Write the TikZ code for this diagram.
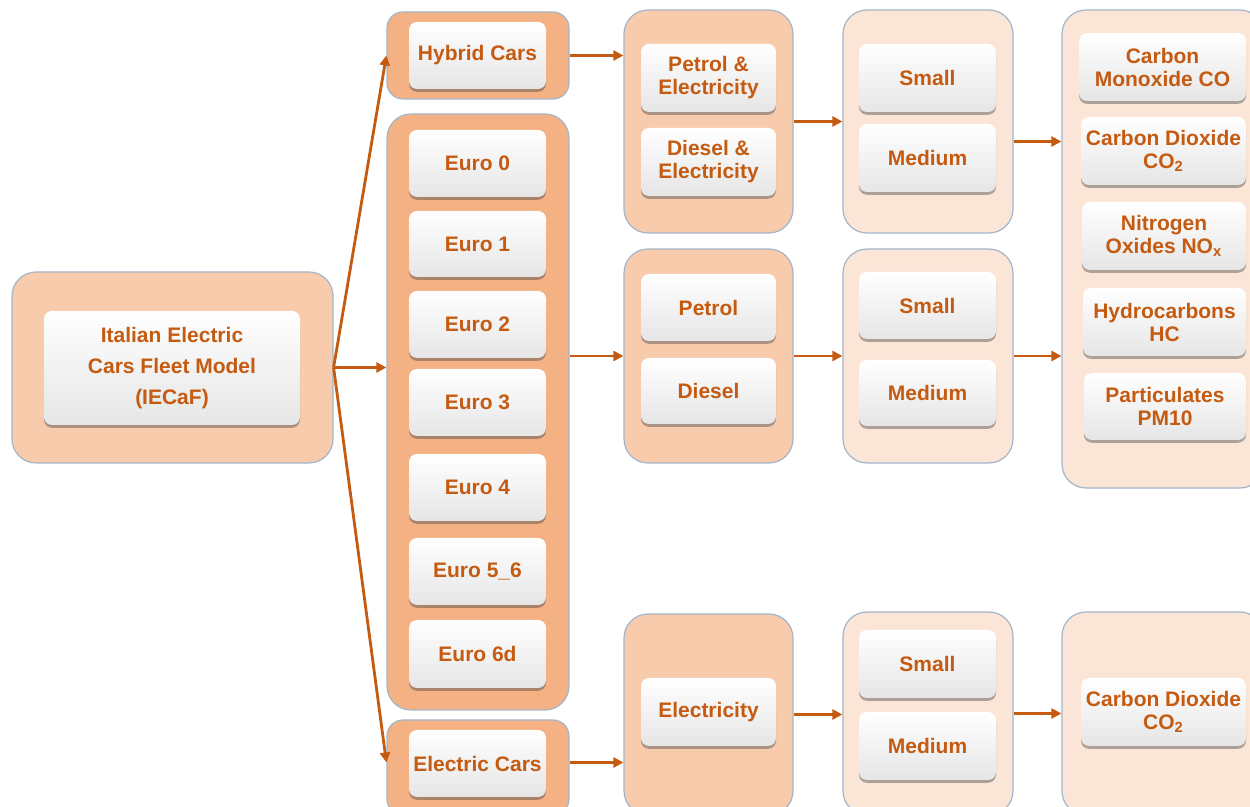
\documentclass[tikz,border=0pt]{standalone}
\usepackage{fontspec}
\setmainfont{Liberation Sans}
\usetikzlibrary{shadows,arrows.meta}
\definecolor{txt}{HTML}{C55A11}
\definecolor{fillA}{HTML}{F4B183}
\definecolor{fillB}{HTML}{F8CBAD}
\definecolor{fillC}{HTML}{FBE5D6}
\definecolor{rim}{HTML}{A3B6CA}
\tikzset{
  x=0.5pt, y=-0.5pt,
  at box/.style n args={4}{at={({(#1+#3)/2},{(#2+#4)/2})},
    minimum width={(#3-#1)*0.5pt}, minimum height={(#4-#2)*0.5pt}},
  group/.style={draw=rim, line width=0.6pt, rounded corners=12pt, inner sep=0pt},
  groupA/.style={group, fill=fillA},
  groupB/.style={group, fill=fillB},
  groupC/.style={group, fill=fillC},
  item/.style={rounded corners=4pt, inner sep=0pt, top color=white, bottom color=black!10,
    drop shadow={shadow xshift=0pt, shadow yshift=-1.4pt, opacity=0.45, fill=black!70},
    text=txt, font=\bfseries\fontsize{10.5}{11.5}\selectfont, align=center},
  arr/.style={draw=txt, line width=1.4pt, -{Triangle[length=5pt,width=5pt]}},
}
\begin{document}
\begin{tikzpicture}
\clip (0,0) rectangle (1250,807);
\fill[white] (0,0) rectangle (1250,807);

% model
\node[groupB, at box={12}{272}{333}{463}] (main) {};
\node[item, at box={44}{311}{300}{425}, font=\bfseries\fontsize{10.5}{15.5}\selectfont] (mainT) {Italian Electric\\Cars Fleet Model\\(IECaF)};

% vehicle classes
\node[groupA, rounded corners=8pt, at box={387}{12}{569}{99}] (hyb) {};
\node[item, at box={409}{22}{546}{89}] (hybT) {Hybrid Cars};
\node[groupA, at box={387}{114}{569}{710}] (euro) {};
\node[item, at box={409}{130}{546}{197}] (e0) {Euro 0};
\node[item, at box={409}{211}{546}{277}] (e1) {Euro 1};
\node[item, at box={409}{291}{546}{358}] (e2) {Euro 2};
\node[item, at box={409}{369}{546}{436}] (e3) {Euro 3};
\node[item, at box={409}{454}{546}{521}] (e4) {Euro 4};
\node[item, at box={409}{538}{546}{605}] (e5) {Euro 5\_6};
\node[item, at box={409}{620}{546}{688}] (e6) {Euro 6d};
\node[groupA, rounded corners=8pt, at box={387}{720}{569}{815}] (elec) {};
\node[item, at box={409}{730}{546}{797}] (elecT) {Electric Cars};

% fuels
\node[groupB, at box={624}{10}{793}{233}] (hfuel) {};
\node[item, at box={641}{44}{776}{112}] (pe) {Petrol \&\\Electricity};
\node[item, at box={641}{128}{776}{196}] (de) {Diesel \&\\Electricity};
\node[groupB, at box={624}{249}{793}{463}] (pd) {};
\node[item, at box={641}{274}{776}{341}] (pet) {Petrol};
\node[item, at box={641}{358}{776}{424}] (die) {Diesel};
\node[groupB, at box={624}{614}{793}{815}] (efuel) {};
\node[item, at box={641}{678}{776}{746}] (ele) {Electricity};

% sizes
\node[groupC, at box={843}{10}{1013}{233}] (sz1) {};
\node[item, at box={859}{44}{996}{112}] (s1) {Small};
\node[item, at box={859}{124}{996}{192}] (m1) {Medium};
\node[groupC, at box={843}{249}{1013}{463}] (sz2) {};
\node[item, at box={859}{272}{996}{339}] (s2) {Small};
\node[item, at box={859}{360}{996}{426}] (m2) {Medium};
\node[groupC, at box={843}{612}{1013}{815}] (sz3) {};
\node[item, at box={859}{630}{996}{698}] (s3) {Small};
\node[item, at box={859}{712}{996}{780}] (m3) {Medium};

% emissions
\node[groupC, at box={1062}{10}{1264}{488}] (em1) {};
\node[item, at box={1079}{33}{1246}{101}] (co) {Carbon\\Monoxide CO};
\node[item, at box={1081}{117}{1246}{185}] (co2) {Carbon Dioxide\\CO\textsubscript{2}};
\node[item, at box={1082}{202}{1246}{270}] (nox) {Nitrogen\\Oxides NO\textsubscript{x}};
\node[item, at box={1083}{288}{1246}{356}] (hc) {Hydrocarbons\\HC};
\node[item, at box={1084}{373}{1246}{440}] (pm) {Particulates\\PM10};
\node[groupC, at box={1062}{612}{1264}{815}] (em2) {};
\node[item, at box={1081}{678}{1246}{746}] (co2b) {Carbon Dioxide\\CO\textsubscript{2}};

% connectors
\draw[arr] (main.east) -- (hyb.west);
\draw[arr] (main.east) -- (main.east -| euro.west);
\draw[arr] (main.east) -- ([yshift=2.5pt]elec.west);
\draw[arr] (hyb.east) -- (hyb.east -| hfuel.west);
\draw[arr] (euro.east |- pd.west) -- (pd.west);
\draw[arr] ([yshift=2.5pt]elec.east) -- ([yshift=2.5pt]elec.east -| efuel.west);
\draw[arr] (hfuel.east) -- (hfuel.east -| sz1.west);
\draw[arr] (pd.east) -- (pd.east -| sz2.west);
\draw[arr] (efuel.east) -- (efuel.east -| sz3.west);
\draw[arr] ([yshift=-10pt]sz1.east) -- ([yshift=-10pt]sz1.east -| em1.west);
\draw[arr] (sz2.east) -- (sz2.east -| em1.west);
\draw[arr] (sz3.east) -- (sz3.east -| em2.west);
\end{tikzpicture}
\end{document}
